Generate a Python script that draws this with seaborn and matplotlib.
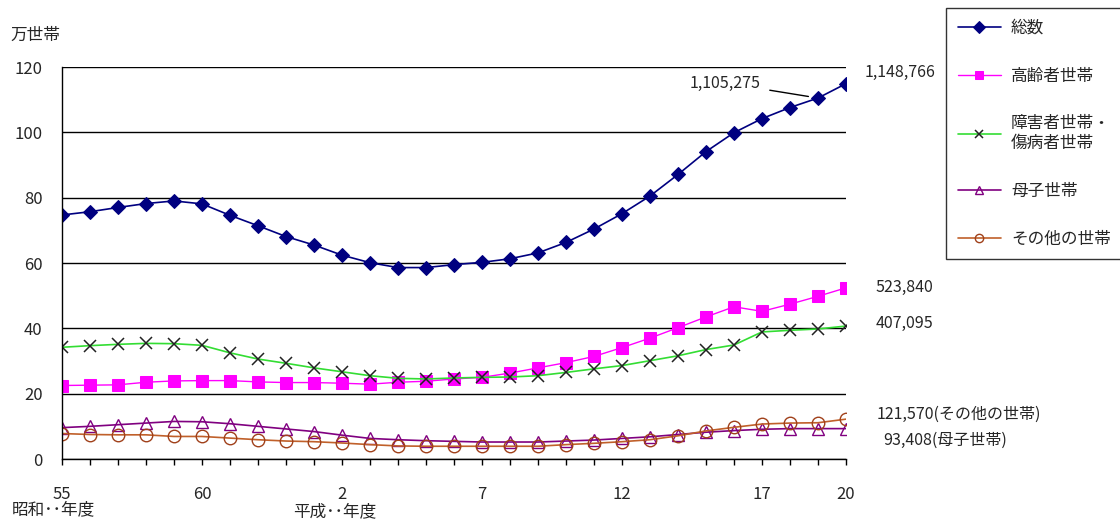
import matplotlib
matplotlib.use("Agg")
import matplotlib.pyplot as plt
import seaborn as sns
import numpy as np

# ---- data (万世帯) ----
years = ["55", "56", "57", "58", "59", "60", "61", "62", "63", "元",
         "2", "3", "4", "5", "6", "7", "8", "9", "10", "11",
         "12", "13", "14", "15", "16", "17", "18", "19", "20"]
tick_show = ["55", "60", "2", "7", "12", "17", "20"]

total = [74.7, 75.7, 77.0, 78.2, 79.0, 78.1, 74.6, 71.4, 68.1, 65.5,
         62.4, 60.1, 58.6, 58.6, 59.5, 60.2, 61.3, 63.1, 66.3, 70.4,
         75.1, 80.5, 87.1, 94.1, 99.9, 104.2, 107.6, 110.5, 114.9]
elderly = [22.5, 22.6, 22.7, 23.5, 23.9, 24.0, 24.0, 23.6, 23.4, 23.4,
           23.2, 22.9, 23.5, 23.8, 24.5, 25.0, 26.3, 27.9, 29.5, 31.4,
           34.1, 37.0, 40.2, 43.5, 46.6, 45.2, 47.4, 49.8, 52.4]
disabled = [34.2, 34.7, 35.1, 35.4, 35.3, 34.8, 32.5, 30.6, 29.3, 27.9,
            26.7, 25.5, 24.7, 24.5, 24.8, 25.0, 25.1, 25.5, 26.5, 27.6,
            28.6, 30.1, 31.6, 33.5, 34.9, 38.9, 39.4, 39.8, 40.7]
mother = [9.6, 10.0, 10.5, 11.0, 11.5, 11.4, 10.8, 10.0, 9.2, 8.4,
          7.3, 6.3, 5.9, 5.6, 5.4, 5.2, 5.2, 5.2, 5.5, 5.8,
          6.3, 6.8, 7.5, 8.2, 8.7, 9.1, 9.3, 9.3, 9.3]
others = [7.8, 7.5, 7.4, 7.4, 6.9, 6.9, 6.4, 5.9, 5.5, 5.3,
          4.9, 4.4, 4.0, 3.9, 3.9, 3.9, 3.9, 3.9, 4.4, 4.8,
          5.3, 5.9, 7.1, 8.6, 9.7, 10.7, 11.0, 11.1, 12.2]

series_names = ["総数", "高齢者世帯", "障害者世帯・\n傷病者世帯", "母子世帯", "その他の世帯"]
end_labels = ["1,148,766", "523,840", "407,095", "93,408(母子世帯)", "121,570(その他の世帯)"]

sns.set_style("white")
plt.rcParams['font.family'] = ['Noto Sans CJK JP', 'DejaVu Sans']
plt.rcParams['font.size'] = 12

fig = plt.figure(figsize=(11.2, 5.22), dpi=100)
ax = fig.add_axes([62/1120, 1-459/522, (846-62)/1120, (459-67)/522])

x = np.arange(len(years))

styles = [
    dict(color="#000080", marker="D", markersize=7, markerfacecolor="#000080",
         markeredgecolor="#000080", linewidth=1.2),
    dict(color="#FF00FF", marker="s", markersize=9, markerfacecolor="#FF00FF",
         markeredgecolor="#FF00FF", linewidth=1.0),
    dict(color="#33DD33", marker="x", markersize=9, markeredgecolor="#222222",
         markeredgewidth=1.1, linewidth=1.2),
    dict(color="#800080", marker="^", markersize=8, markerfacecolor="none",
         markeredgecolor="#800080", markeredgewidth=1.0, linewidth=1.2),
    dict(color="#C0602A", marker="o", markersize=9, markerfacecolor="none",
         markeredgecolor="#A0401A", markeredgewidth=1.0, linewidth=1.2),
]
data = [total, elderly, disabled, mother, others]

for vals, name, st in zip(data, series_names, styles):
    sns.lineplot(x=x, y=vals, ax=ax, label=name, **st)

ax.set_xlim(0, len(years) - 1)
ax.set_ylim(0, 120)
ax.set_yticks(np.arange(0, 121, 20))
ax.grid(axis="y", color="black", linewidth=1.0)
ax.grid(axis="x", visible=False)
ax.set_axisbelow(True)
for s in ["top", "right"]:
    ax.spines[s].set_visible(False)
for s in ["left", "bottom"]:
    ax.spines[s].set_color("black")
    ax.spines[s].set_linewidth(1.0)

ax.set_xticks(x)
ax.set_xticklabels([y if y in tick_show else "" for y in years])
ax.tick_params(axis="x", direction="out", length=4.5, width=1, color="black",
               pad=15, labelsize=12, bottom=True)
ax.tick_params(axis="y", length=0, pad=14, labelsize=12)
ax.set_xlabel("")
ax.set_ylabel("")

# legend
h, l = ax.get_legend_handles_labels()
ax.get_legend().remove()
leg = fig.legend(h, l, loc="upper left", bbox_to_anchor=(946/1120, 1-8/522),
                 frameon=True, fancybox=False, edgecolor="black", fontsize=12,
                 handlelength=2.6, labelspacing=1.85, borderpad=0.7,
                 handletextpad=0.6, borderaxespad=0)
leg.get_frame().set_linewidth(1.0)
for lh in leg.legend_handles:
    lh.set_markersize(6)

# end labels
last = len(years) - 1
offsets = [(19, 11), (30, 0), (30, 3), (37, -12), (31, 5)]
for vals, lab, off in zip(data, end_labels, offsets):
    ax.annotate(lab, xy=(last, vals[-1]), xytext=off, textcoords="offset pixels",
                ha="left", va="center", fontsize=11.5, annotation_clip=False)

ax.annotate("1,105,275", xy=(last - 1, total[-2]), xytext=(-57, 15),
            textcoords="offset pixels", ha="right", va="center", fontsize=11.5,
            arrowprops=dict(arrowstyle="-", color="black", lw=1.0,
                            shrinkA=4, shrinkB=7))

fig.text(10/1120, 1-35/522, "万世帯", fontsize=12, ha="left", va="center")
fig.text(12/1120, 1-510/522, "昭和･･年度", fontsize=12, ha="left", va="center")
fig.text(293/1120, 1-512/522, "平成･･年度", fontsize=12, ha="left", va="center")

fig.savefig("out.png", dpi=100)
